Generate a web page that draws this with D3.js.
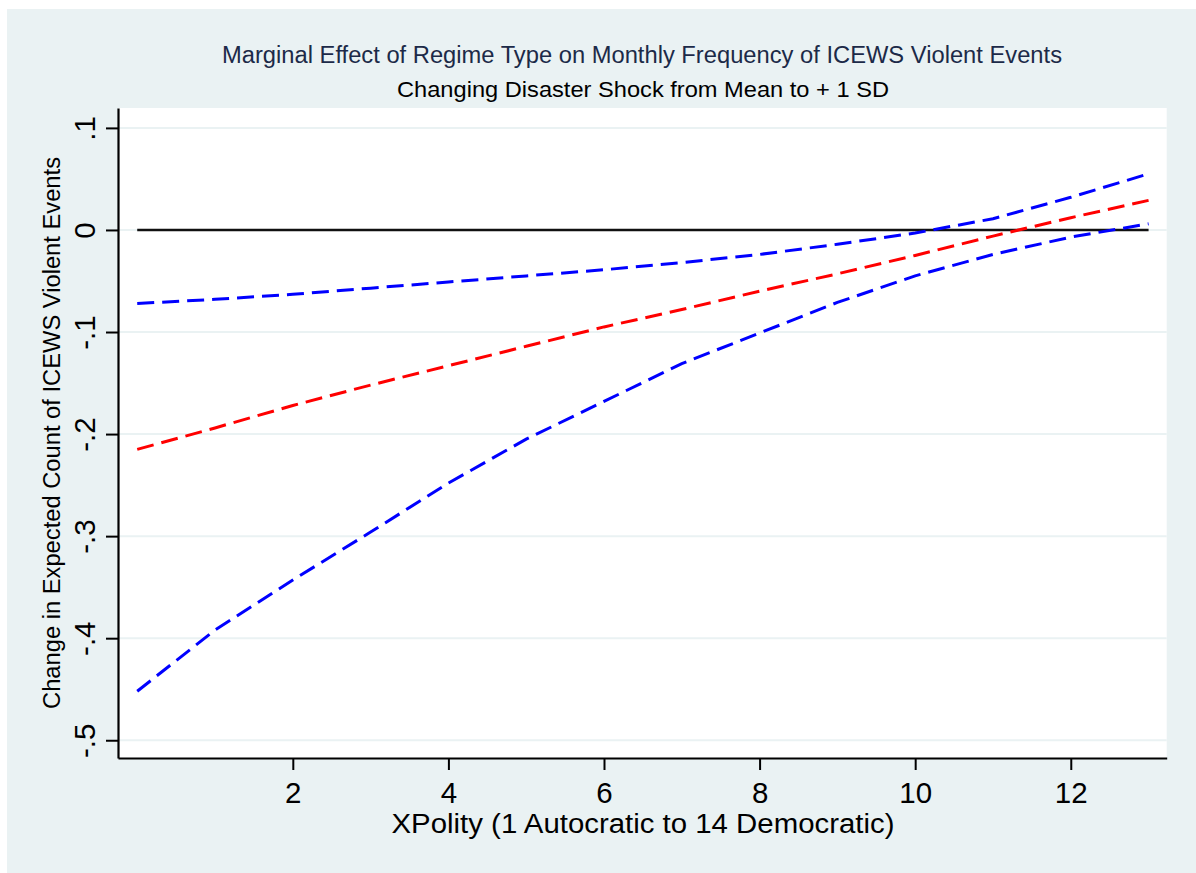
<!DOCTYPE html>
<html>
<head>
<meta charset="utf-8">
<title>Marginal effect of regime type</title>
<script src="https://d3js.org/d3.v7.min.js"></script>
<style>
  body { margin: 0; background: #fff; }
  text { font-family: Arial, "Liberation Sans", sans-serif; }
</style>
</head>
<body>
<div id="chart"></div>
<script>
// values
var xpolity = [0, 1, 2, 3, 4, 5, 6, 7, 8, 9, 10, 11, 12, 13];
var effect  = [-0.215, -0.194, -0.172, -0.152, -0.133, -0.114, -0.095, -0.078, -0.060, -0.043, -0.025, -0.006, 0.012, 0.029];
var upperCI = [-0.072, -0.068, -0.063, -0.057, -0.051, -0.045, -0.039, -0.032, -0.024, -0.014, -0.003, 0.011, 0.032, 0.055];
var lowerCI = [-0.452, -0.392, -0.343, -0.296, -0.248, -0.205, -0.168, -0.131, -0.101, -0.071, -0.045, -0.024, -0.007, 0.006];

var xTicks = [2, 4, 6, 8, 10, 12];
var yTicks = [0.1, 0, -0.1, -0.2, -0.3, -0.4, -0.5];
var yTickLabels = [".1", "0", "-.1", "-.2", "-.3", "-.4", "-.5"];
var xDomain = [-0.247, 13.233];
var yDomain = [-0.5174, 0.1195];

var title1 = "Marginal Effect of Regime Type on Monthly Frequency of ICEWS Violent Events";
var title2 = "Changing Disaster Shock from Mean to + 1 SD";
var xTitle = "XPolity (1 Autocratic to 14 Democratic)";
var yTitle = "Change in Expected Count of ICEWS Violent Events";

var width = 1196, height = 873;
var margin = {top: 108, right: 29.3, bottom: 115, left: 118};
var bg = "#eaf2f3";

var svg = d3.select("#chart").append("svg")
  .attr("width", width)
  .attr("height", height);

// outer graph region
svg.append("rect")
  .attr("x", 7).attr("y", 9)
  .attr("width", width - 7).attr("height", height - 9)
  .attr("fill", bg);

var x = d3.scaleLinear().domain(xDomain).range([margin.left, width - margin.right]);
var y = d3.scaleLinear().domain(yDomain).range([height - margin.bottom, margin.top]);

// plot region
svg.append("rect")
  .attr("x", x.range()[0]).attr("y", y.range()[1])
  .attr("width", x.range()[1] - x.range()[0])
  .attr("height", y.range()[0] - y.range()[1])
  .attr("fill", "#fff");

// grid lines
svg.append("g")
  .selectAll("line")
  .data(yTicks)
  .enter().append("line")
  .attr("x1", x.range()[0]).attr("x2", x.range()[1])
  .attr("y1", d => y(d)).attr("y2", d => y(d))
  .attr("stroke", bg)
  .attr("stroke-width", 2);

// zero reference line
svg.append("line")
  .attr("x1", x(0)).attr("x2", x(13))
  .attr("y1", y(0)).attr("y2", y(0))
  .attr("stroke", "#111")
  .attr("stroke-width", 2.6);

var line = d3.line()
  .x((d, i) => x(xpolity[i]))
  .y(d => y(d));

var series = [
  {vals: upperCI, color: "#0000ff"},
  {vals: lowerCI, color: "#0000ff"},
  {vals: effect, color: "#ff0000"}
];

svg.append("g")
  .selectAll("path")
  .data(series)
  .enter().append("path")
  .attr("d", d => line(d.vals))
  .attr("fill", "none")
  .attr("stroke", d => d.color)
  .attr("stroke-width", 3)
  .attr("stroke-dasharray", "17,8");

// axes
var yAxis = svg.append("g")
  .attr("transform", "translate(" + margin.left + ",0)")
  .call(d3.axisLeft(y).tickValues(yTicks).tickSize(12).tickSizeOuter(0)
    .tickFormat((d, i) => yTickLabels[i]));

var xAxis = svg.append("g")
  .attr("transform", "translate(0," + (height - margin.bottom) + ")")
  .call(d3.axisBottom(x).tickValues(xTicks).tickSize(12).tickSizeOuter(0));

[xAxis, yAxis].forEach(function(g) {
  g.select(".domain").attr("stroke", "#000").attr("stroke-width", 2.2);
  g.selectAll(".tick line").attr("stroke", "#000").attr("stroke-width", 2);
  g.selectAll(".tick text").attr("fill", "#000").style("font-size", "29.5px");
});

xAxis.selectAll(".tick text")
  .attr("y", 0).attr("dy", 0)
  .attr("transform", "translate(0,44.7)");

yAxis.selectAll(".tick text")
  .attr("x", 0).attr("dy", 0)
  .attr("text-anchor", "middle")
  .attr("transform", "translate(-23,0) rotate(-90)");

// titles
svg.append("text")
  .attr("x", 642).attr("y", 63.3)
  .attr("text-anchor", "middle")
  .attr("fill", "#1c2a48")
  .style("font-size", "23px")
  .attr("textLength", 840)
  .attr("lengthAdjust", "spacingAndGlyphs")
  .text(title1);

svg.append("text")
  .attr("x", 643).attr("y", 97)
  .attr("text-anchor", "middle")
  .attr("fill", "#000")
  .style("font-size", "22px")
  .attr("textLength", 492)
  .attr("lengthAdjust", "spacingAndGlyphs")
  .text(title2);

svg.append("text")
  .attr("x", 643).attr("y", 832.7)
  .attr("text-anchor", "middle")
  .attr("fill", "#000")
  .style("font-size", "27px")
  .attr("textLength", 503)
  .attr("lengthAdjust", "spacingAndGlyphs")
  .text(xTitle);

svg.append("text")
  .attr("transform", "translate(59.5," + ((margin.top + height - margin.bottom) / 2) + ") rotate(-90)")
  .attr("text-anchor", "middle")
  .attr("fill", "#000")
  .style("font-size", "23px")
  .attr("textLength", 552)
  .attr("lengthAdjust", "spacingAndGlyphs")
  .text(yTitle);
</script>
</body>
</html>
